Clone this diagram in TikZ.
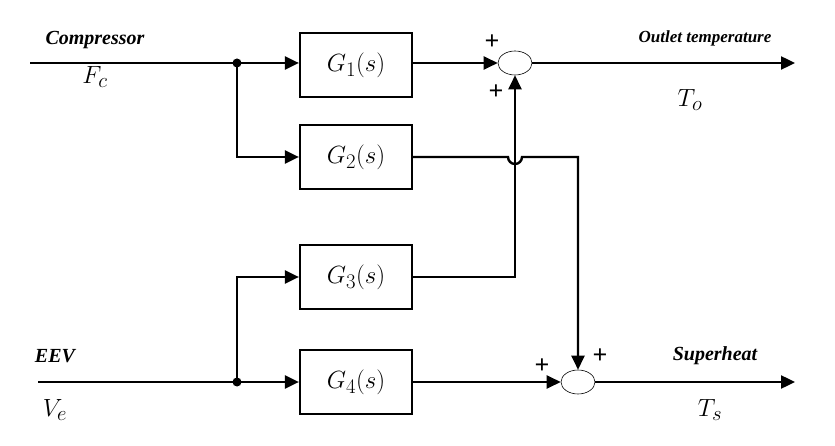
\documentclass[tikz,border=0pt]{standalone}
\usepackage{fontspec}
\setmainfont{Liberation Serif}
\usetikzlibrary{arrows.meta,shapes.geometric}
\begin{document}
\begin{tikzpicture}[x=1pt,y=-1pt,
  blk/.style={draw,line width=2.2pt,minimum width=112pt,minimum height=64pt,font=\fontsize{31}{34}\selectfont},
  sum/.style={draw,ellipse,line width=0.6pt,minimum width=34pt,minimum height=24pt,inner sep=0pt},
  w/.style={line width=2.4pt},
  a/.style={w,-{Triangle[length=14pt,width=13pt]}},
  lab/.style={font=\fontsize{20}{22}\selectfont\bfseries\itshape},
  sm/.style={font=\fontsize{17}{19}\selectfont\bfseries\itshape},
  var/.style={font=\fontsize{31}{34}\selectfont},
  pl/.style={font=\fontsize{26}{26}\selectfont\bfseries}]
\useasboundingbox (0,0) rectangle (835,446);
\node[blk] (g1) at (356,65) {$G_1(s)$};
\node[blk] (g2) at (356,157) {$G_2(s)$};
\node[blk] (g3) at (356,277) {$G_3(s)$};
\node[blk] (g4) at (356,382) {$G_4(s)$};
\node[sum] (s1) at (515,63) {};
\node[sum] (s2) at (578,382) {};
\coordinate (in1) at (30,63);
\coordinate (in2) at (38,382);
\coordinate (j1) at (237,63);
\coordinate (j2) at (237,382);
\coordinate (o1) at (795,63);
\coordinate (o2) at (795,382);
\fill (j1) circle (4.5pt);
\fill (j2) circle (4.5pt);
\draw[a] (in1) -- (g1.west|-in1);
\draw[a] (j1) |- (g2.west);
\draw[a] (g1.east|-s1) -- (s1.west);
\draw[a] (s1.east) -- (o1);
\draw[a] (in2) -- (g4.west|-in2);
\draw[a] (j2) |- (g3.west);
\draw[a] (g4.east|-s2) -- (s2.west);
\draw[a] (s2.east) -- (o2);
\draw[a] (g3.east) -| (s1.south);
\draw[a] (g2.east) -- (508,157) arc[start angle=180,end angle=0,radius=7] -- (578,157) -- (s2.north);
\node[lab] (c) at (95,40) {Compressor};
\node[var] (fc) at (95,77) {$F_c$};
\node[sm] (ot) at (705,38) {Outlet temperature};
\node[var] (to) at (690,100) {$T_o$};
\node[lab] (e) at (55,356) {EEV};
\node[var] (ve) at (55,410) {$V_e$};
\node[lab] (sh) at (715,356) {Superheat};
\node[var] (ts) at (710,410) {$T_s$};
\node[pl] (p1) at (492,42) {+};
\node[pl] (p2) at (496,92) {+};
\node[pl] (p3) at (542,366) {+};
\node[pl] (p4) at (600,356) {+};
\end{tikzpicture}
\end{document}
